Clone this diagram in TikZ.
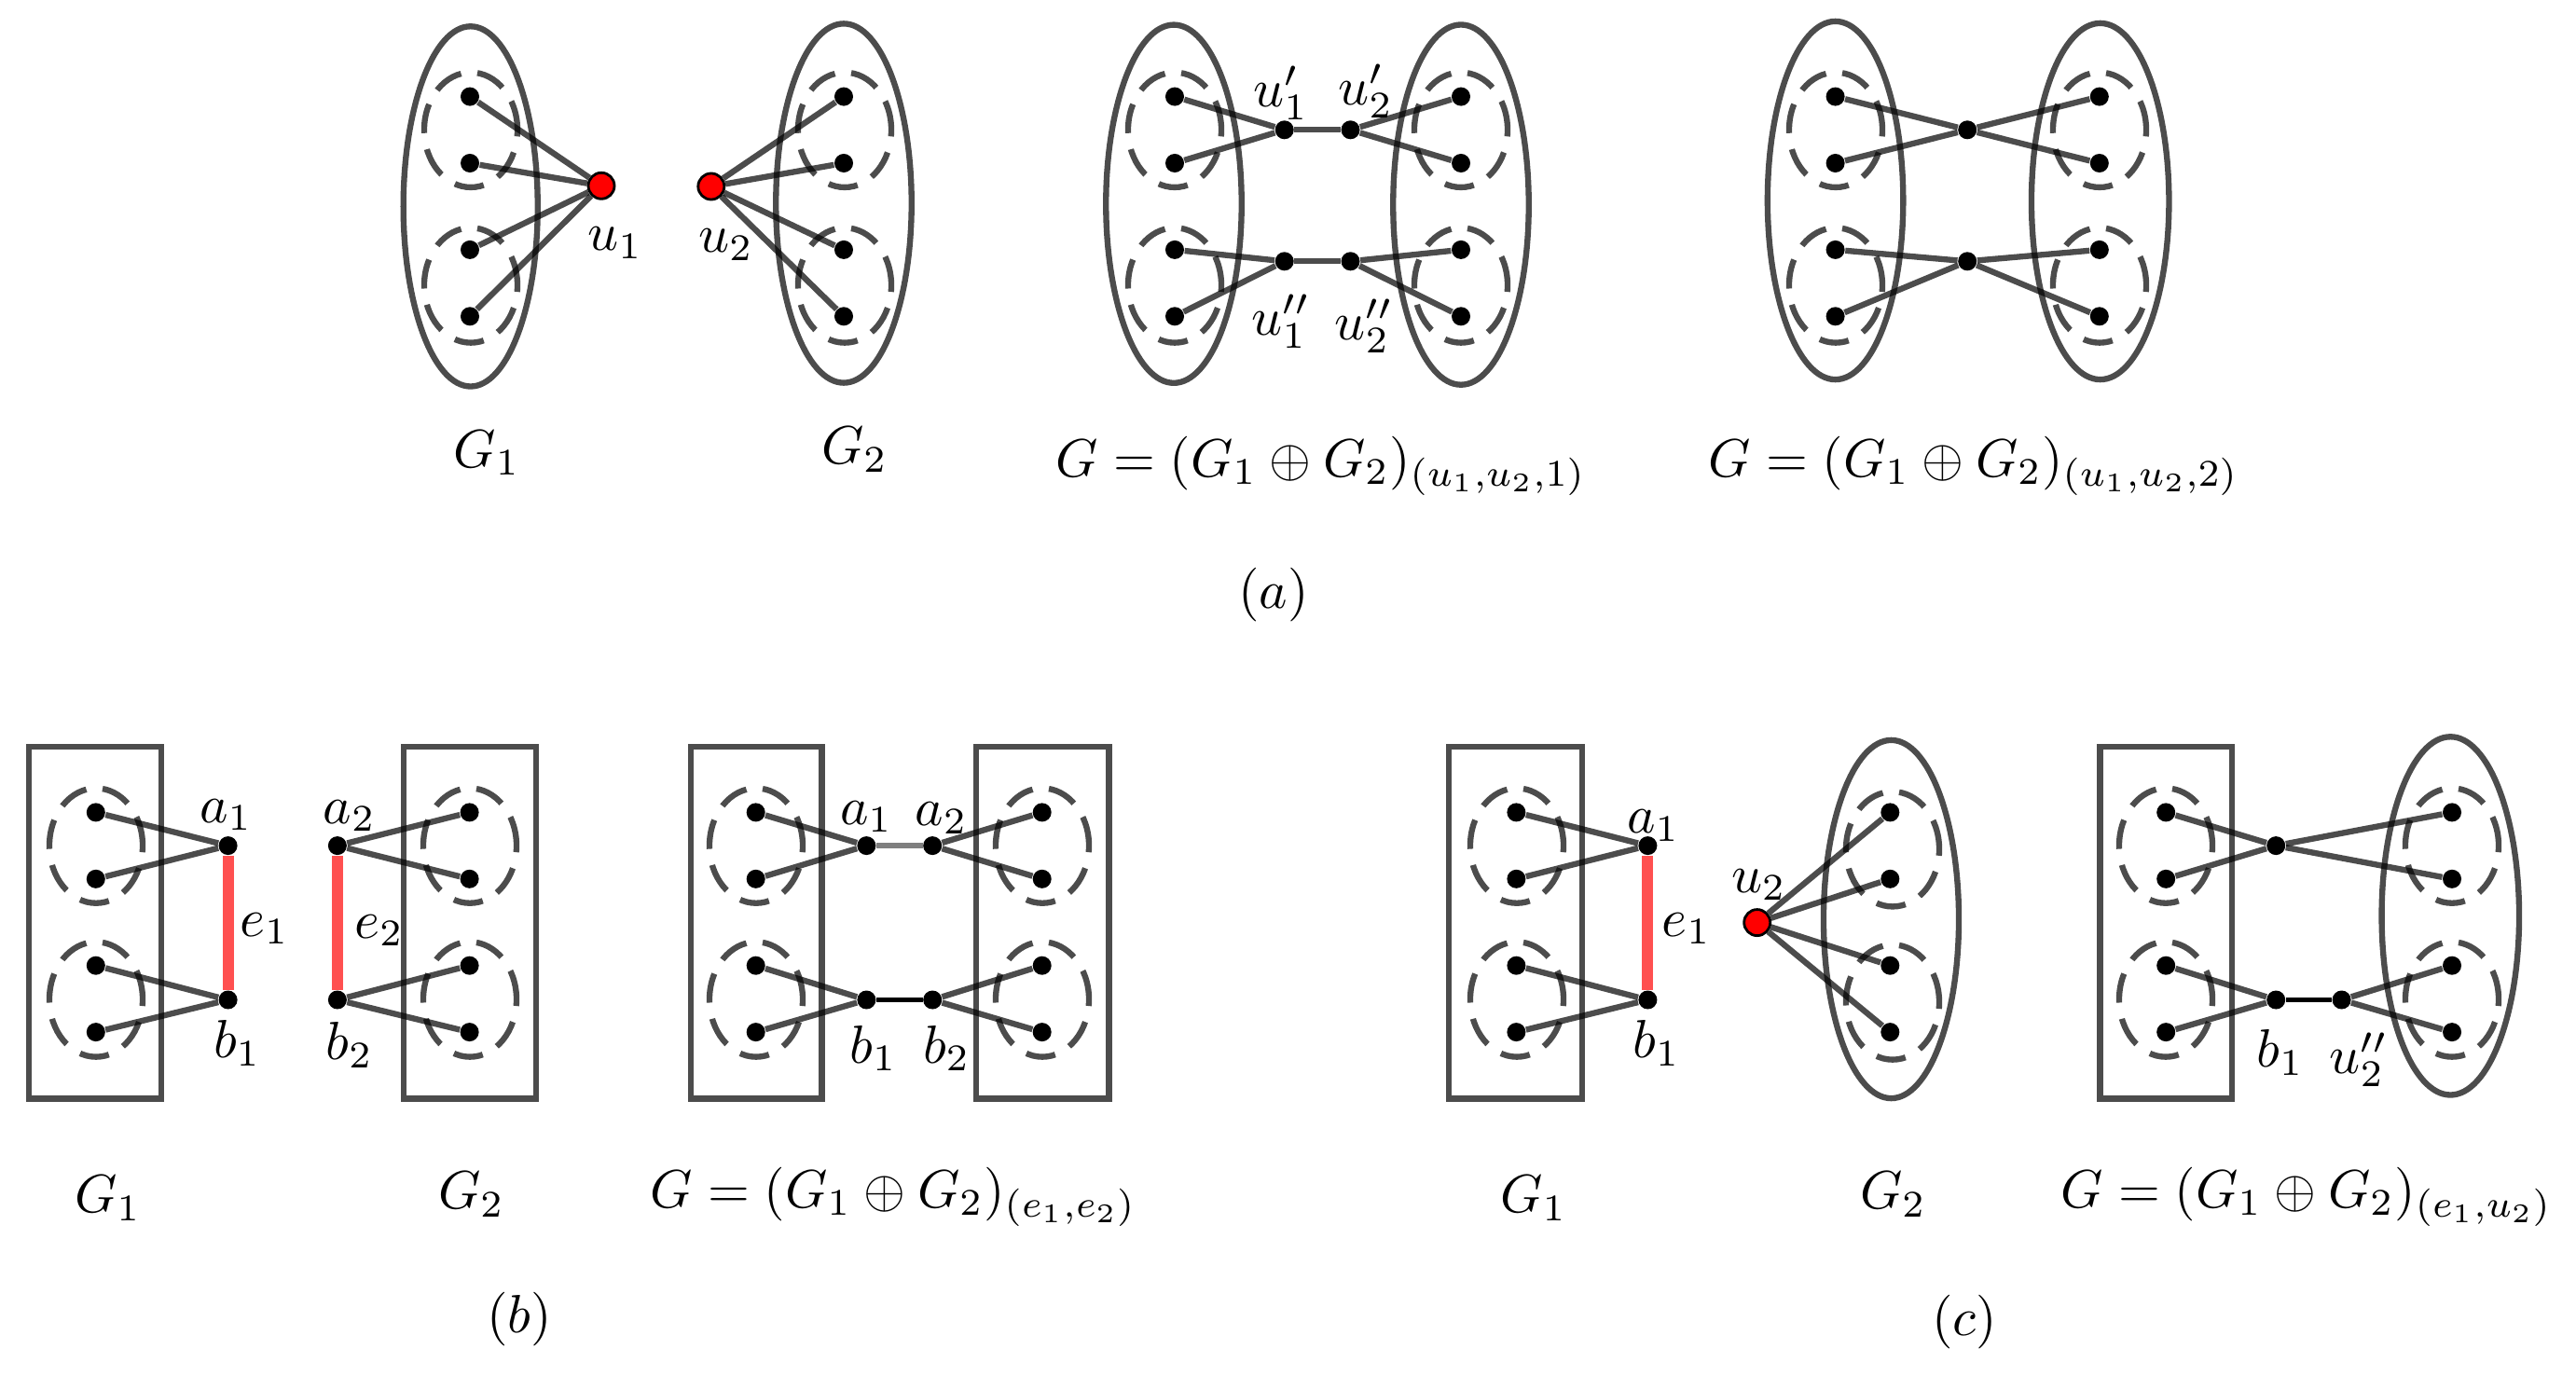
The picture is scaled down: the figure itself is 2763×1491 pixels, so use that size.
\documentclass[tikz,border=0pt]{standalone}
\usepackage{amsmath}
\definecolor{redge}{RGB}{255,80,80}
\newcommand{\sbx}[1]{\scalebox{1.64}{#1}}
\newcommand{\vset}[3]{%
  \node[vdot] (#1-1) at (#2,#3) {};
  \node[vdot] (#1-2) at (#2,#3+71.4) {};
  \node[vdot] (#1-3) at (#2,#3+164.3) {};
  \node[vdot] (#1-4) at (#2,#3+235.7) {};}
\newcommand{\dset}[3]{%
  \draw[dell] (#1,#2) ellipse [x radius=0.5cm,y radius=0.616cm];
  \draw[dell] (#1,#3) ellipse [x radius=0.5cm,y radius=0.616cm];}
\begin{document}
\begin{tikzpicture}[x=0.01cm,y=-0.01cm,
  vdot/.style={circle,fill=black,inner sep=0pt,minimum size=0.2cm},
  rdot/.style={circle,fill=red,draw=black,line width=0.8pt,inner sep=0pt,minimum size=0.28cm},
  eg/.style={draw=black,draw opacity=0.7,line width=1.8pt},
  ebk/.style={draw=black,line width=1.6pt},
  elite/.style={draw=black,draw opacity=0.5,line width=1.6pt},
  ered/.style={draw=redge,line width=3.4pt},
  outl/.style={draw=black,draw opacity=0.7,line width=1.8pt},
  dell/.style={draw=black,draw opacity=0.7,line width=1.8pt,dash pattern=on 9pt off 5pt},
  lbl/.style={inner sep=0pt,font=\fontsize{10}{12}\selectfont},
]
\useasboundingbox (0,0) rectangle (2763,1491);

% ================= (a) part 1 =================
\draw[outl] (504.7,221.4) ellipse [x radius=0.72cm,y radius=1.93cm];
\draw[outl] (905,218) ellipse [x radius=0.727cm,y radius=1.925cm];
\dset{505}{139.3}{306}
\dset{906}{139.3}{306}
\vset{aA}{504}{103.6}
\vset{aB}{905}{103.6}
\node[rdot] (u1) at (645,199.3) {};
\node[rdot] (u2) at (762.8,200) {};
\foreach \i in {1,...,4}{
  \draw[eg] (aA-\i) -- (u1);
  \draw[eg] (aB-\i) -- (u2);
}
\node[lbl] (lu1) at (660,260.7) {\sbx{$u_1$}};
\node[lbl] (lu2) at (778.9,262.5) {\sbx{$u_2$}};
\node[lbl] (lG1a) at (522.5,485.7) {\sbx{$G_1$}};
\node[lbl] (lG2a) at (916.6,482) {\sbx{$G_2$}};

% ================= (a) part 2 =================
\draw[outl] (1259,218.7) ellipse [x radius=0.727cm,y radius=1.92cm];
\draw[outl] (1567,219.6) ellipse [x radius=0.727cm,y radius=1.93cm];
\dset{1260}{139.3}{306}
\dset{1567}{139.3}{306}
\vset{bA}{1260}{103.6}
\vset{bB}{1567}{103.6}
\node[vdot] (p1) at (1377.7,139.3) {};
\node[vdot] (p2) at (1448.5,139.3) {};
\node[vdot] (q1) at (1377.7,280.3) {};
\node[vdot] (q2) at (1448.5,280.3) {};
\draw[eg] (bA-1) -- (p1);
\draw[eg] (bA-2) -- (p1);
\draw[eg] (bA-3) -- (q1);
\draw[eg] (bA-4) -- (q1);
\draw[eg] (bB-1) -- (p2);
\draw[eg] (bB-2) -- (p2);
\draw[eg] (bB-3) -- (q2);
\draw[eg] (bB-4) -- (q2);
\draw[eg] (p1) -- (p2);
\draw[eg] (q1) -- (q2);
\node[lbl] (lp1) at (1374,100) {\sbx{$u_1'$}};
\node[lbl] (lp2) at (1465,98) {\sbx{$u_2'$}};
\node[lbl] (lq1) at (1374,345) {\sbx{$u_1''$}};
\node[lbl] (lq2) at (1463,350) {\sbx{$u_2''$}};
\node[lbl,anchor=base west] (fa1) at (1132,511) {\sbx{$G=(G_1\oplus G_2)_{(u_1,u_2,1)}$}};

% ================= (a) part 3 =================
\draw[outl] (1968.6,215) ellipse [x radius=0.727cm,y radius=1.92cm];
\draw[outl] (2252.7,216) ellipse [x radius=0.737cm,y radius=1.91cm];
\dset{1969}{139.3}{306}
\dset{2252}{139.3}{306}
\vset{cA}{1968.6}{103.6}
\vset{cB}{2251.8}{103.6}
\node[vdot] (m1) at (2110.2,139.3) {};
\node[vdot] (m2) at (2110.2,280.3) {};
\draw[eg] (cA-1) -- (m1);
\draw[eg] (cA-2) -- (m1);
\draw[eg] (cB-1) -- (m1);
\draw[eg] (cB-2) -- (m1);
\draw[eg] (cA-3) -- (m2);
\draw[eg] (cA-4) -- (m2);
\draw[eg] (cB-3) -- (m2);
\draw[eg] (cB-4) -- (m2);
\node[lbl,anchor=base west] (fa2) at (1832,511) {\sbx{$G=(G_1\oplus G_2)_{(u_1,u_2,2)}$}};

\node[lbl] (capa) at (1366,638) {\sbx{$(a)$}};

% ================= (b) part 1 =================
\draw[outl] (31.1,801) rectangle (173.3,1178.6);
\draw[outl] (433.2,801) rectangle (574.9,1178.6);
\dset{103}{907.1}{1072}
\dset{504}{907.1}{1072}
\vset{dA}{102.8}{871.4}
\vset{dB}{503.6}{871.4}
\node[vdot] (a1) at (244.6,907.1) {};
\node[vdot] (b1) at (244.6,1072.5) {};
\node[vdot] (a2) at (361.9,907.1) {};
\node[vdot] (b2) at (361.9,1072.5) {};
\draw[eg] (dA-1) -- (a1);
\draw[eg] (dA-2) -- (a1);
\draw[eg] (dA-3) -- (b1);
\draw[eg] (dA-4) -- (b1);
\draw[eg] (dB-1) -- (a2);
\draw[eg] (dB-2) -- (a2);
\draw[eg] (dB-3) -- (b2);
\draw[eg] (dB-4) -- (b2);
\draw[ered] (a1) -- (b1);
\draw[ered] (a2) -- (b2);
\node[lbl] (la1) at (242.5,874) {\sbx{$a_1$}};
\node[lbl] (lb1) at (254.5,1119) {\sbx{$b_1$}};
\node[lbl] (le1) at (284,996) {\sbx{$e_1$}};
\node[lbl] (la2) at (375,875) {\sbx{$a_2$}};
\node[lbl] (lb2) at (375,1121) {\sbx{$b_2$}};
\node[lbl] (le2) at (407,998) {\sbx{$e_2$}};
\node[lbl] (lG1b) at (116,1285) {\sbx{$G_1$}};
\node[lbl] (lG2b) at (505.7,1281.4) {\sbx{$G_2$}};

% ================= (b) part 2 =================
\draw[outl] (740.7,801) rectangle (881.5,1178.6);
\draw[outl] (1047.2,801) rectangle (1189.6,1178.6);
\dset{811}{907.1}{1072}
\dset{1118}{907.1}{1072}
\vset{eA}{810.7}{871.4}
\vset{eB}{1117.7}{871.4}
\node[vdot] (ma1) at (929.4,907.1) {};
\node[vdot] (ma2) at (1000.2,907.1) {};
\node[vdot] (mb1) at (929.4,1072.5) {};
\node[vdot] (mb2) at (1000.2,1072.5) {};
\draw[eg] (eA-1) -- (ma1);
\draw[eg] (eA-2) -- (ma1);
\draw[eg] (eA-3) -- (mb1);
\draw[eg] (eA-4) -- (mb1);
\draw[eg] (eB-1) -- (ma2);
\draw[eg] (eB-2) -- (ma2);
\draw[eg] (eB-3) -- (mb2);
\draw[eg] (eB-4) -- (mb2);
\draw[elite] (ma1) -- (ma2);
\draw[ebk] (mb1) -- (mb2);
\node[lbl] (lma1) at (929.4,876) {\sbx{$a_1$}};
\node[lbl] (lma2) at (1009.7,877.9) {\sbx{$a_2$}};
\node[lbl] (lmb1) at (937,1124.3) {\sbx{$b_1$}};
\node[lbl] (lmb2) at (1015.5,1124.3) {\sbx{$b_2$}};
\node[lbl,anchor=base west] (fb) at (697,1295) {\sbx{$G=(G_1\oplus G_2)_{(e_1,e_2)}$}};

\node[lbl] (capb) at (556.8,1415) {\sbx{$(b)$}};

% ================= (c) part 1 =================
\draw[outl] (1553.9,801) rectangle (1696.9,1178.6);
\draw[outl] (2028.5,986) ellipse [x radius=0.725cm,y radius=1.92cm];
\dset{1627}{907.1}{1072}
\dset{2030}{910.8}{1075}
\vset{fA}{1626.4}{871.4}
\vset{fB}{2027.3}{871.4}
\node[vdot] (ca1) at (1767.4,907.1) {};
\node[vdot] (cb1) at (1767.4,1072.5) {};
\node[rdot] (cu2) at (1884.7,989.6) {};
\draw[eg] (fA-1) -- (ca1);
\draw[eg] (fA-2) -- (ca1);
\draw[eg] (fA-3) -- (cb1);
\draw[eg] (fA-4) -- (cb1);
\foreach \i in {1,...,4}{ \draw[eg] (fB-\i) -- (cu2); }
\draw[ered] (ca1) -- (cb1);
\node[lbl] (lca1) at (1773.5,885.5) {\sbx{$a_1$}};
\node[lbl] (lcb1) at (1777,1119) {\sbx{$b_1$}};
\node[lbl] (lce1) at (1809,996) {\sbx{$e_1$}};
\node[lbl] (lcu2) at (1886.5,949) {\sbx{$u_2$}};
\node[lbl] (lG1c) at (1645,1285) {\sbx{$G_1$}};
\node[lbl] (lG2c) at (2030.6,1281.4) {\sbx{$G_2$}};

% ================= (c) part 2 =================
\draw[outl] (2252.4,801) rectangle (2394.3,1178.6);
\draw[outl] (2628.3,982.4) ellipse [x radius=0.737cm,y radius=1.92cm];
\dset{2323}{907.1}{1072}
\dset{2630}{907.1}{1072}
\vset{gA}{2323.2}{871.4}
\vset{gB}{2630}{871.4}
\node[vdot] (gc) at (2441.2,907.1) {};
\node[vdot] (gb1) at (2441.2,1072.5) {};
\node[vdot] (gu2) at (2511.6,1072.5) {};
\draw[eg] (gA-1) -- (gc);
\draw[eg] (gA-2) -- (gc);
\draw[eg] (gB-1) -- (gc);
\draw[eg] (gB-2) -- (gc);
\draw[eg] (gA-3) -- (gb1);
\draw[eg] (gA-4) -- (gb1);
\draw[eg] (gB-3) -- (gu2);
\draw[eg] (gB-4) -- (gu2);
\draw[ebk] (gb1) -- (gu2);
\node[lbl] (lgb1) at (2446,1129) {\sbx{$b_1$}};
\node[lbl] (lgu2) at (2530,1137) {\sbx{$u_2''$}};
\node[lbl,anchor=base west] (fc) at (2210,1295) {\sbx{$G=(G_1\oplus G_2)_{(e_1,u_2)}$}};

\node[lbl] (capc) at (2107,1418.5) {\sbx{$(c)$}};
\end{tikzpicture}
\end{document}
